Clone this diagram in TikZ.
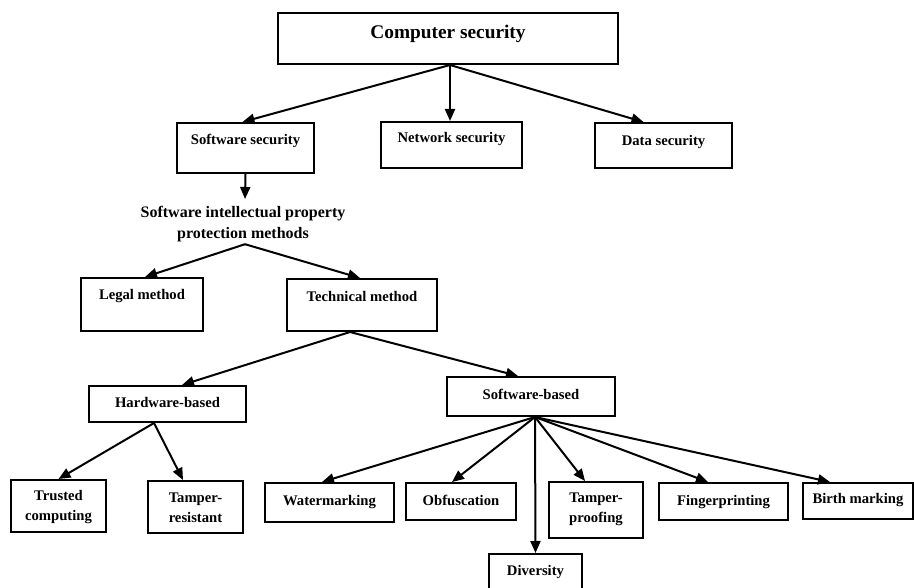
\documentclass[tikz,border=0pt]{standalone}
\usepackage{fontspec}
\setmainfont{Liberation Serif}
\usetikzlibrary{arrows.meta,fit,calc}
\begin{document}
\begin{tikzpicture}[x=0.75pt,y=-0.75pt,
  box/.style={draw, line width=1.5pt, inner sep=0pt, fit={#1}},
  lbl/.style={font=\bfseries\fontsize{11}{15}\selectfont, align=center, anchor=base, inner sep=0pt},
  conn/.style={line width=1.5pt, -{Triangle[length=9pt,width=7.5pt]}}]
\fill[white] (0,0) rectangle (914,588);
\useasboundingbox (0,0) rectangle (914,588);

% boxes
\node[box={(278,13) (618,64)}]  (cs) {};
\node[box={(177,123) (314,173)}] (ss) {};
\node[box={(381,122) (522,168)}] (ns) {};
\node[box={(595,123) (732,168)}] (ds) {};
\node[box={(81,278) (203,331)}]  (legal) {};
\node[box={(287,279) (437,331)}] (tech) {};
\node[box={(89,386) (246,422)}]  (hw) {};
\node[box={(447,377) (615,416)}] (sw) {};
\node[box={(11,480) (106,532)}]  (tc) {};
\node[box={(148,481) (243,533)}] (tr) {};
\node[box={(265,483) (394,522)}] (wm) {};
\node[box={(406,483) (516,520)}] (ob) {};
\node[box={(489,554) (582,595)}] (dv) {};
\node[box={(549,482) (643,538)}] (tp) {};
\node[box={(659,483) (788,520)}] (fp) {};
\node[box={(803,483) (913,519)}] (bm) {};

% labels (two-line labels are placed by the baseline of their last line)
\node[lbl, font=\bfseries\fontsize{14.5}{17}\selectfont] (cs-t) at (448,39) {Computer security};
\node[lbl] (ss-t) at (245.5,145) {Software security};
\node[lbl] (ns-t) at (451.5,143) {Network security};
\node[lbl] (ds-t) at (663.5,146) {Data security};
\node[font=\bfseries\fontsize{12}{15.75}\selectfont, align=center, inner sep=1.5pt, anchor=north]
  (sipp) at (243,204) {Software intellectual property\\protection methods};
\node[lbl] (legal-t) at (142,299) {Legal method};
\node[lbl] (tech-t) at (362,301) {Technical method};
\node[lbl] (hw-t) at (167.5,407) {Hardware-based};
\node[lbl] (sw-t) at (531,399) {Software-based};
\node[lbl] (tc-t) at (58.5,520) {Trusted\\computing};
\node[lbl] (tr-t) at (195.5,522) {Tamper-\\resistant};
\node[lbl] (wm-t) at (329.5,505) {Watermarking};
\node[lbl] (ob-t) at (461,505) {Obfuscation};
\node[lbl] (tp-t) at (596,522) {Tamper-\\proofing};
\node[lbl] (fp-t) at (723.5,505) {Fingerprinting};
\node[lbl] (bm-t) at (858,503) {Birth marking};
\node[lbl] (dv-t) at (535.5,575) {Diversity};

% connectors
\coordinate (csS) at ($(cs.south)+(2,0)$);
\draw[conn] (csS) -- ($(ss.north)+(-3,0)$);
\draw[conn] (csS) -- ($(ns.north)+(-1.5,0)$);
\draw[conn] (csS) -- ($(ds.north)+(-20,0)$);
\draw[conn] (ss.south) -- ($(sipp.north)+(2,-5)$);
\coordinate (sippS) at ($(sipp.south)+(2,0)$);
\draw[conn] (sippS) -- ($(legal.north)+(3,0)$);
\draw[conn] (sippS) -- ($(tech.north)+(-2,0)$);
\coordinate (techS) at ($(tech.south)+(-12,0)$);
\draw[conn] (techS) -- ($(hw.north)+(14.5,0)$);
\draw[conn] (techS) -- ($(sw.north)+(-13,0)$);
\coordinate (hwS) at ($(hw.south)+(-13.5,0)$);
\draw[conn] (hwS) -- (tc.north);
\draw[conn] (hwS) -- ($(tr.north)+(-12.5,0)$);
\coordinate (swS) at ($(sw.south)+(4,0)$);
\draw[conn] (swS) -- ($(wm.north)+(-7.5,0)$);
\draw[conn] (swS) -- ($(ob.north)+(-9,0)$);
\draw[conn] (swS) -- (dv.north);
\draw[conn] (swS) -- ($(tp.north)+(-11,0)$);
\draw[conn] (swS) -- ($(fp.north)+(-15.5,0)$);
\draw[conn] (swS) -- ($(bm.north)+(-28,0)$);
\end{tikzpicture}
\end{document}
